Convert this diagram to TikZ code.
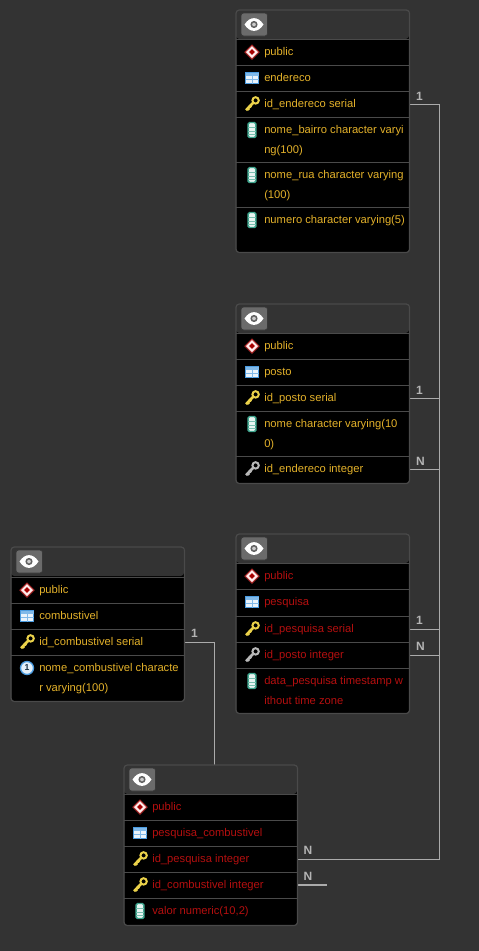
\documentclass[tikz,border=0pt]{standalone}
\usepackage{fontspec}
\setmainfont{Liberation Sans}
\usetikzlibrary{backgrounds}

\definecolor{bgdark}{HTML}{333333}
\definecolor{panelline}{HTML}{4A4A4A}
\definecolor{relline}{HTML}{ABABAB}
\definecolor{okgold}{HTML}{E3B12A}
\definecolor{badred}{HTML}{B40F0F}
\definecolor{keygold}{HTML}{EBD24A}
\definecolor{keygrey}{HTML}{B8B8B8}
\definecolor{iconblue}{HTML}{4A9BE0}
\definecolor{iconteal}{HTML}{3FA58E}

\tikzset{
    tablebox/.style={fill=black, rounded corners=2.5pt, inner sep=0pt, anchor=north west, minimum width=129.75pt},
    rowbox/.style={inner sep=0pt, anchor=north west, minimum width=129.75pt},
    rowline/.style={draw=panelline, line width=.75pt},
    rowtext/.style={anchor=north west, inner sep=0pt, align=left, font=\fontsize{8.4}{15}\selectfont},
    rel/.style={draw=relline, line width=1pt},
    rellabel/.style={text=relline!90!white, inner sep=0pt, font=\fontsize{9}{10}\selectfont\bfseries},
    eyebutton/.pic={
        \draw[fill=black!58!white, draw=black!78, rounded corners=2pt, line width=.5pt] (-13,-11.5) rectangle (13.5,11.5);
        \fill[white] (-9.5,0) .. controls (-4,-8.5) and (4,-8.5) .. (9.5,0) .. controls (4,8.5) and (-4,8.5) .. (-9.5,0) -- cycle;
        \draw[fill=white!80!black, draw=black!62, line width=1.1pt] (0,0) circle (2.8);
    },
    schemaicon/.pic={
        \draw[fill=white!92!red, draw=red!60!black!85!white, line width=.8pt] (-7,0) -- (0,-7) -- (7,0) -- (0,7) -- cycle;
        \fill[red!65!black] (-2.8,0) -- (0,-2.8) -- (2.8,0) -- (0,2.8) -- cycle;
    },
    tableicon/.pic={
        \draw[fill=white!88!iconblue, draw=iconblue, line width=.8pt] (-6.5,-5.5) rectangle (6.5,5.5);
        \fill[iconblue!70!white] (-6.5,-5.5) rectangle (6.5,-2.4);
        \draw[iconblue!70!white, line width=.4pt] (-6.5,1.4) -- (6.5,1.4) (0,-5.5) -- (0,5.5);
    },
    keyicon/.pic={
        \draw[keygold, line width=1.5pt] (3.6,-3.6) circle (3.2);
        \draw[keygold, line width=2pt] (1.2,-1.2) -- (-6,6.2);
        \draw[keygold, line width=1.5pt] (-5,3.6) -- (-2.8,5.8) (-2.7,1.4) -- (-.8,3.3);
    },
    fkicon/.pic={
        \draw[keygrey, line width=1.5pt] (3.6,-3.6) circle (3.2);
        \draw[keygrey, line width=2pt] (1.2,-1.2) -- (-6,6.2);
        \draw[keygrey, line width=1.5pt] (-5,3.6) -- (-2.8,5.8) (-2.7,1.4) -- (-.8,3.3);
    },
    colicon/.pic={
        \draw[fill=white!88!iconteal, draw=iconteal, rounded corners=1pt, line width=1.1pt] (-3.8,-7.5) rectangle (3.8,7.5);
        \draw[iconteal!70!white, line width=.5pt] (-3.8,-3) -- (3.8,-3) (-3.8,1) -- (3.8,1) (-3.8,4.5) -- (3.8,4.5);
    },
    uniqicon/.pic={
        \draw[fill=white!85!iconblue, draw=iconblue, line width=1pt] (0,0) circle (6.5);
        \node[inner sep=0pt, text=black!70!iconblue, font=\fontsize{6.5}{7}\selectfont\bfseries] at (0,0) {1};
    }
}

% name, x, top, bottom
\newcommand{\dbtable}[4]{
    \node[tablebox, minimum height={(#4-#3)*.75pt}] (#1) at (#2,#3) {};
    \fill[bgdark, rounded corners=2.5pt] (#2,#3+29) -- (#2,#3) -- (#2+173,#3) -- (#2+173,#3+29) -- cycle;
    \draw[panelline, line width=.9pt, rounded corners=2.5pt] (#1.south west) rectangle (#1.north east);
    \pic at (#2+18,#3+14.5) {eyebutton};
}
% name, x, top, bottom, icon, colour, text
\newcommand{\dbrow}[7]{
    \node[rowbox, minimum height={(#4-#3)*.75pt}] (#1) at (#2,#3) {};
    \draw[rowline] (#1.north west) -- (#1.north east);
    \pic at (#2+16,#3+13) {#5};
    \node[rowtext, text=#6] (#1-text) at (#2+28,#3+2) {\strut #7};
}

\begin{document}
\begin{tikzpicture}[x=.75pt, y=-.75pt]
    \path[use as bounding box] (0,0) rectangle (479,951);

    % endereco
    \dbtable{end}{236}{10}{252}
    \dbrow{end-schema}{236}{39}{65}{schemaicon}{okgold}{public}
    \dbrow{end-name}{236}{65}{91}{tableicon}{okgold}{endereco}
    \dbrow{end-pk}{236}{91}{117}{keyicon}{okgold}{id\_endereco serial}
    \dbrow{end-bairro}{236}{117}{162}{colicon}{okgold}{nome\_bairro character varyi\\ng(100)}
    \dbrow{end-rua}{236}{162}{207}{colicon}{okgold}{nome\_rua character varying\\(100)}
    \dbrow{end-num}{236}{207}{252}{colicon}{okgold}{numero character varying(5)}

    % posto
    \dbtable{pos}{236}{304}{483}
    \dbrow{pos-schema}{236}{333}{359}{schemaicon}{okgold}{public}
    \dbrow{pos-name}{236}{359}{385}{tableicon}{okgold}{posto}
    \dbrow{pos-pk}{236}{385}{411}{keyicon}{okgold}{id\_posto serial}
    \dbrow{pos-nome}{236}{411}{456}{colicon}{okgold}{nome character varying(10\\0)}
    \dbrow{pos-fk}{236}{456}{483}{fkicon}{okgold}{id\_endereco integer}

    % pesquisa
    \dbtable{pes}{236}{534}{713}
    \dbrow{pes-schema}{236}{563}{589}{schemaicon}{badred}{public}
    \dbrow{pes-name}{236}{589}{616}{tableicon}{badred}{pesquisa}
    \dbrow{pes-pk}{236}{616}{642}{keyicon}{badred}{id\_pesquisa serial}
    \dbrow{pes-fk}{236}{642}{668}{fkicon}{badred}{id\_posto integer}
    \dbrow{pes-data}{236}{668}{713}{colicon}{badred}{data\_pesquisa timestamp w\\ithout time zone}

    % combustivel
    \dbtable{com}{11}{547}{701}
    \dbrow{com-schema}{11}{577}{603}{schemaicon}{okgold}{public}
    \dbrow{com-name}{11}{603}{629}{tableicon}{okgold}{combustivel}
    \dbrow{com-pk}{11}{629}{655}{keyicon}{okgold}{id\_combustivel serial}
    \dbrow{com-nome}{11}{655}{701}{uniqicon}{okgold}{nome\_combustivel characte\\r varying(100)}

    % pesquisa_combustivel
    \dbtable{pcb}{124}{765}{925}
    \dbrow{pcb-schema}{124}{794}{820}{schemaicon}{badred}{public}
    \dbrow{pcb-name}{124}{820}{846}{tableicon}{badred}{pesquisa\_combustivel}
    \dbrow{pcb-pes}{124}{846}{872}{keyicon}{badred}{id\_pesquisa integer}
    \dbrow{pcb-com}{124}{872}{898}{keyicon}{badred}{id\_combustivel integer}
    \dbrow{pcb-val}{124}{898}{925}{colicon}{badred}{valor numeric(10,2)}

    \coordinate (pcb-free) at (327,885);

    \begin{scope}[on background layer]
        \fill[bgdark] (0,0) rectangle (479,951);
        \draw[rel] (end-pk.east) -- ++(30,0) |- (pos-fk.east);
        \draw[rel] (pos-pk.east) -- ++(30,0) |- (pes-fk.east);
        \draw[rel] (pes-pk.east) -- ++(30,0) |- (pcb-pes.east);
        \draw[rel] (com-pk.east) -- ++(30,0) |- (pcb-free);
    \end{scope}

    \node[rellabel] (lbl-end-one) at (419.5,96) {1};
    \node[rellabel] (lbl-pos-one) at (419.5,390) {1};
    \node[rellabel] (lbl-pos-many) at (420.5,461.5) {N};
    \node[rellabel] (lbl-pes-one) at (419.5,620) {1};
    \node[rellabel] (lbl-pes-many) at (420.5,646) {N};
    \node[rellabel] (lbl-com-one) at (194.5,633.5) {1};
    \node[rellabel] (lbl-pcb-one) at (308,850) {N};
    \node[rellabel] (lbl-pcb-two) at (308,876) {N};

\end{tikzpicture}
\end{document}
